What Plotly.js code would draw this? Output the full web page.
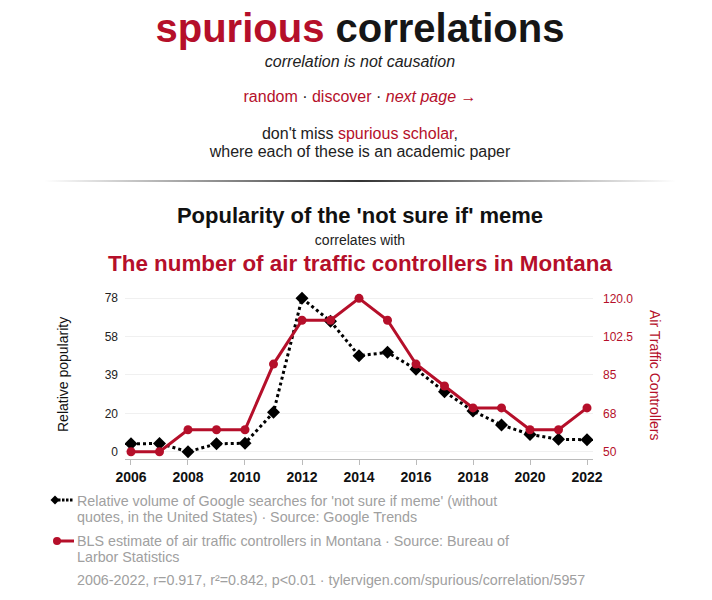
<!DOCTYPE html>
<html>
<head>
<meta charset="utf-8">
<script src="https://cdn.plot.ly/plotly-3.0.1.min.js"></script>
<style>
  html, body { margin:0; padding:0; background:#fff; width:712px; height:600px; overflow:hidden; }
  body { font-family: "Liberation Sans", Arial, sans-serif; position:relative; }
  .ln { position:absolute; left:4px; width:712px; text-align:center; white-space:nowrap; }
  .red { color:#b50f2a; }
  #chart { position:absolute; left:0; top:0; width:712px; height:600px; }
  .leg { position:absolute; left:77px; width:445px; font-size:14.3px; line-height:16px; color:#a0a0a0; }
  .sym { position:absolute; }
</style>
</head>
<body>
<div id="chart"></div>

<div class="ln" style="top:8px;font-size:40px;line-height:40px;font-weight:bold;color:#161616;"><span class="red">spurious</span> correlations</div>
<div class="ln" style="top:53.5px;font-size:16px;line-height:16px;font-style:italic;color:#222;">correlation is not causation</div>
<div class="ln" style="top:89px;font-size:16px;line-height:16px;color:#222;"><span class="red">random</span> · <span class="red">discover</span> · <span class="red"><i>next page</i> →</span></div>
<div class="ln" style="top:125.2px;font-size:16px;line-height:18px;color:#222;">don't miss <span class="red">spurious scholar</span>,<br>where each of these is an academic paper</div>
<div style="position:absolute;left:44px;top:180px;width:632px;height:2px;background:linear-gradient(to right, rgba(60,60,60,0), #333 50%, rgba(60,60,60,0));"></div>

<div class="ln" style="top:205px;font-size:22px;line-height:22px;font-weight:bold;color:#111;">Popularity of the 'not sure if' meme</div>
<div class="ln" style="top:233px;font-size:14px;line-height:14px;color:#222;">correlates with</div>
<div class="ln red" style="top:253.4px;font-size:22.4px;line-height:22px;font-weight:bold;">The number of air traffic controllers in Montana</div>

<svg class="sym" style="left:50px;top:492px;" width="26" height="16">
  <line x1="8" y1="8" x2="24" y2="8" stroke="#000" stroke-width="3" stroke-dasharray="2.5,1.5"/>
  <polygon points="5,3.5 9.5,8 5,12.5 0.5,8" fill="#000"/>
</svg>
<div class="leg" id="leg1" style="top:492.5px;"></div>
<svg class="sym" style="left:50px;top:533px;" width="26" height="16">
  <line x1="7" y1="8" x2="24" y2="8" stroke="#b50f2a" stroke-width="3"/>
  <circle cx="7" cy="8" r="4" fill="#b50f2a"/>
</svg>
<div class="leg" id="leg2" style="top:532.5px;"></div>
<div class="leg" id="foot" style="top:571.8px;width:600px;white-space:nowrap;"></div>

<script>
// ---- data ----
const years = [2006,2007,2008,2009,2010,2011,2012,2013,2014,2015,2016,2017,2018,2019,2020,2021,2022];
const memePopularity = [4,4.2,0,4,4.3,20,78,66.3,48.8,50.5,41.9,30.5,20.7,13.6,8.8,6.3,6.1];
const airTrafficControllers = [50,50,60,60,60,90,110,110,120,110,90,80,70,70,60,60,70];
const leftTickVals = [0,19.5,39,58.5,78];
const leftTickText = ["0","20","39","58","78"];
const rightTickVals = [50,67.5,85,102.5,120];
const rightTickText = ["50","68","85","102.5","120.0"];
const xTickVals = [2006,2008,2010,2012,2014,2016,2018,2020,2022];
const seriesNames = [
  "Relative volume of Google searches for 'not sure if meme' (without quotes, in the United States) · Source: Google Trends",
  "BLS estimate of air traffic controllers in Montana · Source: Bureau of Larbor Statistics"
];
const footerText = "2006-2022, r=0.917, r²=0.842, p<0.01 · tylervigen.com/spurious/correlation/5957";

document.getElementById('leg1').textContent = seriesNames[0];
document.getElementById('leg2').textContent = seriesNames[1];
document.getElementById('foot').textContent = footerText;

const RED = '#b50f2a';
const FONT = '"Liberation Sans", Arial, sans-serif';

const traces = [
  {
    x: years, y: airTrafficControllers, yaxis: 'y2', type: 'scatter', mode: 'lines+markers',
    name: seriesNames[1],
    line: {color: RED, width: 3},
    marker: {color: RED, size: 9, symbol: 'circle'}
  },
  {
    x: years, y: memePopularity, type: 'scatter', mode: 'lines+markers',
    name: seriesNames[0],
    line: {color: '#000', width: 3, dash: 'dot'},
    marker: {color: '#000', size: 10, symbol: 'diamond'}
  }
];

const layout = {
  width: 712, height: 600,
  margin: {l: 125, r: 119, t: 290, b: 141, pad: 0},
  paper_bgcolor: 'rgba(0,0,0,0)', plot_bgcolor: 'rgba(0,0,0,0)',
  showlegend: false,
  font: {family: FONT, color: '#222'},
  xaxis: {
    range: [2005.79, 2022.21], tickvals: xTickVals, ticktext: xTickVals.map(String),
    showgrid: false, zeroline: false,
    showline: true, linecolor: '#bbbbbb', linewidth: 1,
    ticks: 'outside', ticklen: 5, tickcolor: '#bbbbbb',
    tickfont: {family: FONT, size: 14, color: '#111', weight: 'bold'}
  },
  yaxis: {
    range: [-3.7, 82.2], tickvals: leftTickVals, ticktext: leftTickText,
    showgrid: true, gridcolor: '#f0f0f0', gridwidth: 1, zeroline: false,
    showline: false, ticks: '', ticklabelstandoff: 6,
    tickfont: {family: FONT, size: 12, color: '#222'}
  },
  yaxis2: {
    overlaying: 'y', side: 'right',
    range: [46.67, 123.8], tickvals: rightTickVals, ticktext: rightTickText,
    showgrid: false, zeroline: false, showline: false, ticks: '', ticklabelstandoff: 9,
    tickfont: {family: FONT, size: 12, color: RED}
  },
  annotations: [
    {xref: 'paper', yref: 'paper', x: (63-125)/468, y: (459-375)/169, text: 'Relative popularity',
     textangle: -90, showarrow: false, font: {family: FONT, size: 14, color: '#111'}, xanchor: 'center', yanchor: 'middle'},
    {xref: 'paper', yref: 'paper', x: (655-125)/468, y: (459-375)/169, text: 'Air Traffic Controllers',
     textangle: 90, showarrow: false, font: {family: FONT, size: 14, color: RED}, xanchor: 'center', yanchor: 'middle'}
  ]
};

Plotly.newPlot('chart', traces, layout, {staticPlot: true, displayModeBar: false});
</script>
</body>
</html>
